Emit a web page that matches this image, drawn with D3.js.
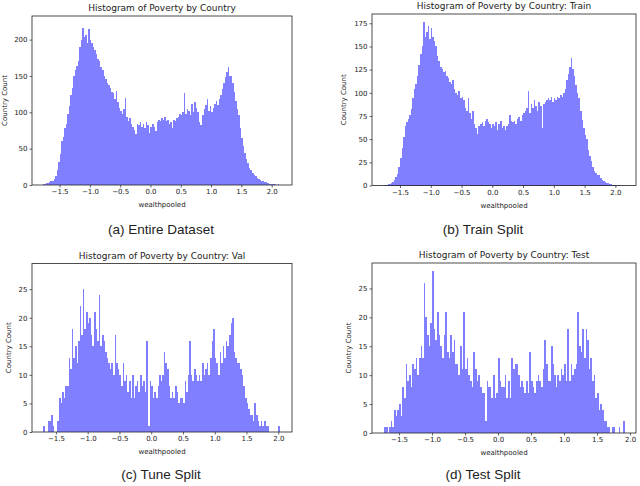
<!DOCTYPE html>
<html>
<head>
<meta charset="utf-8">
<script src="https://cdn.jsdelivr.net/npm/d3@7"></script>
<style>
body { margin: 0; background: #fff; }
svg text { font-family: "DejaVu Sans", sans-serif; fill: #222; }
</style>
</head>
<body>
<div id="chart"></div>
<script>
// histogram bins, in wealthpooled units
const binWidth = 0.025;
const entireStart = -1.775, trainStart = -1.775, valStart = -1.725, testStart = -1.725;

// counts per bin
const entireCounts = [
  1, 2, 3, 3,   4, 5, 6, 8,   12, 20, 32, 42,   60, 66, 78, 84,
  98, 108, 124, 134,   150, 158, 164, 170,   190, 200, 216, 204,   206, 196, 215, 200,
  195, 190, 186, 180,   174, 170, 163, 158,   150, 146, 140, 138,   133, 128, 126, 118,
  129, 114, 106, 102,   98, 104, 120, 94,   88, 92, 84, 80,   76, 70, 84, 82,
  86, 80, 84, 78,   86, 82, 72, 80,   84, 80, 74, 86,   90, 88, 92, 90,
  94, 88, 90, 84,   86, 78, 90, 88,   92, 94, 98, 96,   100, 126, 98, 104,
  102, 96, 112, 100,   114, 106, 100, 86,   82, 96, 104, 110,   118, 102, 108, 100,
  106, 112, 116, 110,   118, 124, 132, 140,   148, 156, 162, 150,   150, 140, 128, 116,
  104, 96, 78, 64,   54, 44, 36, 30,   24, 21, 17, 14,   12, 10, 8, 7,
  6, 5, 4, 4,   3, 2, 2, 2,   1, 1, 0, 1
];
const trainCounts = [
  0, 1, 1, 2,   2, 3, 4, 6,   9, 12, 20, 30,   40, 52, 64, 68,
  72, 76, 82, 94,   104, 110, 118, 130,   142, 150, 176, 160,   166, 172, 158, 170,
  160, 156, 150, 140,   134, 128, 126, 122,   124, 118, 116, 112,   110, 114, 104, 100,
  98, 102, 94, 96,   92, 84, 80, 94,   78, 72, 80, 66,   62, 56, 64, 66,
  68, 64, 70, 72,   68, 66, 62, 66,   64, 68, 60, 66,   70, 62, 64, 60,
  64, 66, 76, 70,   68, 70, 66, 72,   74, 70, 76, 78,   80, 84, 102, 78,
  88, 84, 92, 86,   80, 90, 86, 62,   88, 90, 92, 94,   92, 96, 90, 94,
  92, 96, 94, 98,   96, 100, 104, 114,   120, 128, 138, 126,   118, 108, 100, 94,
  80, 71, 62, 54,   50, 38, 32, 26,   20, 16, 13, 11,   11, 8, 6, 5,
  4, 3, 3, 2,   2, 1, 1, 1,   0, 1, 0, 0
];
const valCounts = [
  0, 1, 0, 0,   2, 2, 3, 1,   0, 0, 2, 6,   5, 7, 6, 8,
  8, 13, 11, 18,   13, 15, 12, 16,   22, 17, 25, 18,   21, 19, 20, 17,
  15, 21, 18, 16,   24, 15, 17, 16,   14, 13, 12, 11,   12, 10, 17, 12,
  11, 10, 8, 12,   9, 10, 7, 9,   6, 10, 6, 8,   9, 7, 10, 8,
  9, 7, 16, 1,   9, 8, 6, 7,   6, 8, 10, 9,   10, 14, 12, 11,
  8, 6, 7, 6,   8, 7, 5, 6,   6, 5, 9, 7,   10, 16, 10, 9,
  11, 10, 9, 10,   9, 12, 10, 11,   12, 10, 13, 16,   18, 13, 12, 10,
  14, 12, 15, 13,   16, 15, 17, 19,   20, 14, 13, 12,   12, 11, 10, 8,
  6, 5, 4, 3,   3, 2, 5, 3,   2, 1, 2, 1,   2, 1, 1, 0,
  0, 0, 0, 0,   0, 1, 0, 0
];
const testCounts = [
  1, 1, 0, 1,   2, 1, 4, 3,   4, 5, 3, 8,   6, 12, 9, 10,
  8, 12, 11, 13,   10, 13, 15, 13,   26, 20, 17, 15,   19, 28, 18, 16,
  21, 17, 15, 13,   17, 21, 14, 13,   17, 14, 16, 12,   12, 10, 15, 11,
  21, 11, 13, 10,   9, 8, 14, 11,   9, 10, 8, 7,   7, 2, 9, 8,
  8, 6, 10, 6,   7, 13, 9, 8,   8, 10, 6, 9,   6, 13, 11, 12,
  12, 10, 8, 9,   8, 7, 9, 7,   14, 9, 8, 7,   9, 10, 9, 8,
  11, 16, 12, 9,   9, 15, 12, 10,   8, 10, 9, 11,   10, 12, 9, 18,
  9, 12, 10, 11,   12, 21, 15, 14,   18, 13, 18, 16,   11, 13, 9, 10,
  6, 7, 4, 5,   4, 2, 2, 1,   1, 0, 1, 1,   0, 0, 1, 0,
  0, 2, 0, 0
];

// tick labels
const xTickValues = [-1.5, -1.0, -0.5, 0.0, 0.5, 1.0, 1.5, 2.0];
const entireYTicks = [0, 50, 100, 150, 200];
const trainYTicks = [0, 25, 50, 75, 100, 125, 150, 175];
const valYTicks = [0, 5, 10, 15, 20, 25];
const testYTicks = [0, 5, 10, 15, 20, 25];

const titles = [
  "Histogram of Poverty by Country",
  "Histogram of Poverty by Country: Train",
  "Histogram of Poverty by Country: Val",
  "Histogram of Poverty by Country: Test"
];
const captions = ["(a) Entire Dataset", "(b) Train Split", "(c) Tune Split", "(d) Test Split"];

const svg = d3.select("#chart")
  .append("svg")
    .attr("width", 640)
    .attr("height", 486);

// axes boxes and limits for each panel
const panels = [
  {title: titles[0], caption: captions[0], start: entireStart, counts: entireCounts, yTicks: entireYTicks,
   xDomain: [-1.955, 2.335], yMax: 232.5, left: 32, right: 292, top: 16, bottom: 185,
   ylabelX: 4.5, captionX: 161, captionY: 234},
  {title: titles[1], caption: captions[1], start: trainStart, counts: trainCounts, yTicks: trainYTicks,
   xDomain: [-1.955, 2.335], yMax: 185, left: 372, right: 636, top: 14, bottom: 185.5,
   ylabelX: 343.5, captionX: 483, captionY: 234},
  {title: titles[2], caption: captions[2], start: valStart, counts: valCounts, yTicks: valYTicks,
   xDomain: [-1.876, 2.216], yMax: 29.5, left: 32, right: 292, top: 263.5, bottom: 432,
   ylabelX: 8.5, captionX: 161, captionY: 479},
  {title: titles[3], caption: captions[3], start: testStart, counts: testCounts, yTicks: testYTicks,
   xDomain: [-1.91, 2.09], yMax: 29.4, left: 372, right: 636, top: 263, bottom: 433,
   ylabelX: 348.5, captionX: 483, captionY: 479}
];

panels.forEach(function(p) {

  const x = d3.scaleLinear().domain(p.xDomain).range([p.left, p.right]);
  const y = d3.scaleLinear().domain([0, p.yMax]).range([p.bottom, p.top]);

  const bins = p.counts.map((c, i) => ({x0: p.start + i * binWidth, x1: p.start + (i + 1) * binWidth, count: c}))
    .filter(d => d.count > 0);

  // bars
  svg.append("g")
    .attr("shape-rendering", "crispEdges")
    .selectAll("rect")
    .data(bins)
    .join("rect")
      .attr("x", d => x(d.x0))
      .attr("width", d => x(d.x1) - x(d.x0))
      .attr("y", d => y(d.count))
      .attr("height", d => y(0) - y(d.count))
      .attr("fill", "#7f7fff");

  // x axis
  const xAxis = svg.append("g")
    .attr("transform", `translate(0, ${p.bottom})`)
    .call(d3.axisBottom(x).tickValues(xTickValues).tickFormat(d3.format(".1f")).tickSize(2.5).tickPadding(2));
  // y axis
  const yAxis = svg.append("g")
    .attr("transform", `translate(${p.left}, 0)`)
    .call(d3.axisLeft(y).tickValues(p.yTicks).tickSize(2.5).tickPadding(2));

  [xAxis, yAxis].forEach(function(a) {
    a.select(".domain").remove();
    a.selectAll("line").attr("stroke", "#222").attr("stroke-width", 0.7);
    a.selectAll("text").style("font-family", "DejaVu Sans").style("font-size", "7px").attr("fill", "#222");
  });

  // frame
  svg.append("rect")
    .attr("x", p.left)
    .attr("y", p.top)
    .attr("width", p.right - p.left)
    .attr("height", p.bottom - p.top)
    .attr("fill", "none")
    .attr("stroke", "#222")
    .attr("stroke-width", 0.8);

  // title
  svg.append("text")
    .attr("x", (p.left + p.right) / 2)
    .attr("y", p.top - 5)
    .attr("text-anchor", "middle")
    .style("font-size", "9px")
    .text(p.title);

  // axis labels
  svg.append("text")
    .attr("x", (p.left + p.right) / 2)
    .attr("y", p.bottom + 22)
    .attr("text-anchor", "middle")
    .style("font-size", "7px")
    .text("wealthpooled");

  svg.append("text")
    .attr("transform", `translate(${p.ylabelX}, ${(p.top + p.bottom) / 2}) rotate(-90)`)
    .attr("text-anchor", "middle")
    .attr("dominant-baseline", "central")
    .style("font-size", "7px")
    .text("Country Count");

  // sub caption
  svg.append("text")
    .attr("x", p.captionX)
    .attr("y", p.captionY)
    .attr("text-anchor", "middle")
    .style("font-family", "Liberation Sans, Arial, sans-serif")
    .style("font-size", "13.5px")
    .attr("fill", "#000")
    .text(p.caption);
});
</script>
</body>
</html>
